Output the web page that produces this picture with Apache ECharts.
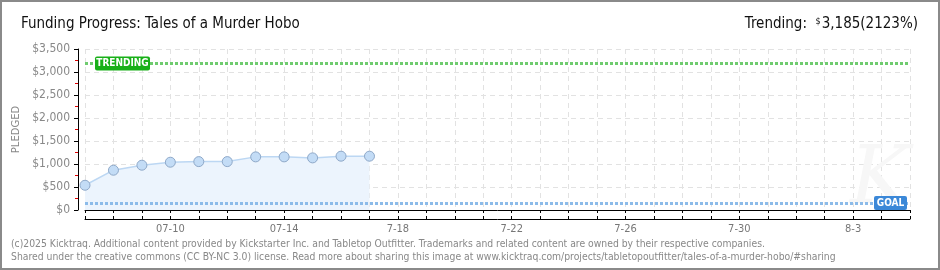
<!DOCTYPE html>
<html><head><meta charset="utf-8">
<script src="https://cdn.jsdelivr.net/npm/echarts@6/dist/echarts.min.js"></script>
<style>
html,body{margin:0;padding:0;background:#fff;}
#c{width:940px;height:270px;box-sizing:border-box;border:2px solid #8a8a8a;}
</style></head><body>
<div id="c"></div>
<script>
const dates = ['7/7','7/8','7/9','7/10','7/11','7/12','7/13','7/14','7/15','7/16','7/17','7/18','7/19','7/20','7/21','7/22','7/23','7/24','7/25','7/26','7/27','7/28','7/29','7/30','7/31','8/1','8/2','8/3','8/4','8/5'];
const pledged = [538, 865, 974, 1039, 1052, 1052, 1155, 1155, 1133, 1170, 1170];
const tickLabelDates = ['7/10','7/14','7/18','7/22','7/26','7/30','8/3'];
const tickLabelTexts = ['07-10','07-14','7-18','7-22','7-26','7-30','8-3'];
const goal = 150;
const trending = 3185;
const trendingPct = 2123;
const yTicks = [0, 500, 1000, 1500, 2000, 2500, 3000, 3500];
const titleText = 'Funding Progress: Tales of a Murder Hobo';
const footer1 = '(c)2025 Kicktraq. Additional content provided by Kickstarter Inc. and Tabletop Outfitter. Trademarks and related content are owned by their respective companies.';
const footer2 = 'Shared under the creative commons (CC BY-NC 3.0) license. Read more about sharing this image at www.kicktraq.com/projects/tabletopoutfitter/tales-of-a-murder-hobo/#sharing';

const FONT = '"Liberation Sans Narrow","DejaVu Sans Condensed",sans-serif';
const chart = echarts.init(document.getElementById('c'), null, {renderer:'canvas'});
const labelMap = {};
tickLabelDates.forEach((d,i)=>labelMap[d]=tickLabelTexts[i]);
const fmtMoney = v => '$' + v.toLocaleString('en-US');

const xBase = {
  type:'category', data: dates, boundaryGap:false, position:'bottom', offset:9,
  axisLine:{show:true, lineStyle:{color:'#000', width:1}},
};
chart.setOption({
  animation:false,
  grid:{left:83, right:28, top:47, bottom:58, containLabel:false},
  xAxis:[
    Object.assign({}, xBase, {
      axisTick:{show:true, length:3, interval:0, lineStyle:{color:'#000'}},
      axisLabel:{show:true, interval:(i)=>labelMap[dates[i]]!==undefined, formatter:(v)=>labelMap[v]||'',
        color:'#777', fontFamily:FONT, fontSize:11, margin:5},
      splitLine:{show:true, interval:0, lineStyle:{color:'#e2e2e2', type:[5,4], width:1}}
    }),
    Object.assign({}, xBase, {
      axisTick:{show:true, inside:true, length:3, interval:0, lineStyle:{color:'#000'}},
      axisLabel:{show:false}, splitLine:{show:false}
    })
  ],
  yAxis:{
    type:'value', min:0, max:3500, interval:500, offset:7,
    name:'PLEDGED', nameLocation:'middle', nameGap:54, nameRotate:90,
    nameTextStyle:{color:'#888', fontFamily:'"DejaVu Sans",sans-serif', fontSize:10},
    axisLine:{show:true, lineStyle:{color:'#000'}},
    axisTick:{show:true, length:4, lineStyle:{color:'#000'}},
    minorTick:{show:true, splitNumber:2, length:3, lineStyle:{color:'#e00000'}},
    axisLabel:{color:'#888', fontFamily:FONT, fontSize:12, margin:8, formatter:fmtMoney},
    splitLine:{show:true, lineStyle:{color:'#e2e2e2', type:[5,4]}}
  },
  series:[{
    type:'line', data:pledged, xAxisIndex:0,
    symbol:'circle', symbolSize:10,
    itemStyle:{color:'#c3dcf6', borderColor:'#8ea8c8', borderWidth:1},
    lineStyle:{color:'#bcd7f3', width:1.5},
    areaStyle:{color:'#ecf4fd', opacity:1},
    markLine:{
      silent:true, symbol:'none', label:{show:false},
      data:[
        {yAxis:trending, lineStyle:{color:'#6fcb6f', width:3, type:[3,2]}},
        {yAxis:goal, lineStyle:{color:'#8cbbe9', width:3, type:[3,2]}}
      ]
    },
    z:3
  }]
});

const yT = chart.convertToPixel({yAxisIndex:0}, trending);
const yG = chart.convertToPixel({yAxisIndex:0}, goal);
chart.setOption({
  graphic:[
    {type:'text', left:19, top:15, style:{text:titleText, font:'15px '+FONT, fill:'#111'}},
    {type:'text', right:20, top:15, style:{
      text:'{a|Trending:  }{s|$}{a|3,185(' + trendingPct + '%)}',
      rich:{a:{font:'15px '+FONT, fill:'#111'}, s:{font:'9px '+FONT, fill:'#111', verticalAlign:'top', padding:[0,1,6,0]}}
    }},
    {type:'text', x:848, y:140, z:0, style:{text:'K', font:'italic 80px "DejaVu Serif",serif', fill:'#f7f7f7'}},
    {type:'rect', x:93, y:yT-7, z:10, shape:{width:55, height:14, r:2}, style:{fill:'#18b018'}},
    {type:'text', x:120.5, y:yT, z:11, style:{text:'TRENDING', font:'bold 10px "DejaVu Sans Condensed",sans-serif', fill:'#fff', align:'center', verticalAlign:'middle'}},
    {type:'rect', x:872, y:yG-7, z:10, shape:{width:33, height:14, r:2}, style:{fill:'#3b88d8'}},
    {type:'text', x:888.5, y:yG, z:11, style:{text:'GOAL', font:'bold 10px "DejaVu Sans Condensed",sans-serif', fill:'#fff', align:'center', verticalAlign:'middle'}},
    {type:'text', left:9, top:237, style:{text:footer1, font:'10.3px '+FONT, fill:'#888'}},
    {type:'text', left:9, top:250, style:{text:footer2, font:'10.3px '+FONT, fill:'#888'}}
  ]
});
</script></body></html>
